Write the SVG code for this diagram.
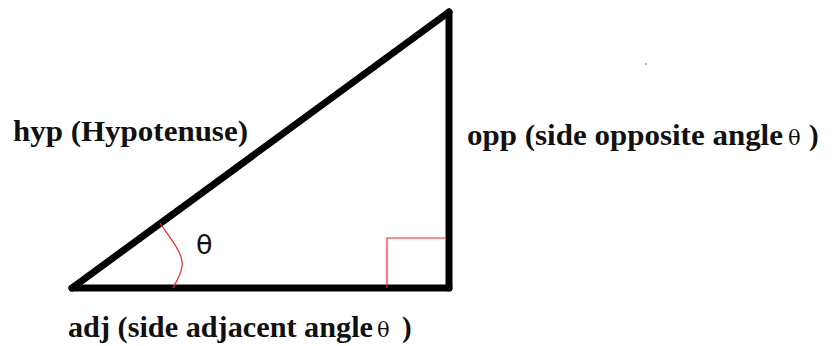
<svg xmlns="http://www.w3.org/2000/svg" width="832" height="346" viewBox="0 0 832 346">
<style>
.side{stroke:#000;stroke-width:7;stroke-linecap:round;fill:none}
.mark{stroke:#ff2020;stroke-width:1.2;fill:none}
.lbl{font-family:"Liberation Serif","Times New Roman",serif;font-weight:bold;font-size:29px;fill:#111}
.th{font-family:"DejaVu Serif",serif;font-weight:normal;font-size:21px;fill:#111}
.ang{font-family:"DejaVu Sans",sans-serif;font-size:27px;fill:#111}
</style>
<rect width="832" height="346" fill="#fff"/>
<g id="connectors">
<line id="adj-side" class="side" x1="72" y1="288" x2="449" y2="288"/>
<line id="opp-side" class="side" x1="449" y1="288" x2="449" y2="12"/>
<line id="hyp-side" class="side" x1="72" y1="288" x2="449" y2="12"/>
</g>
<g id="angle-mark">
<path class="mark" d="M160,223 C170,238 184,254 182,266 C181,275 176,282 173,288"/>
<text class="ang" x="196" y="254">θ</text>
</g>
<g id="right-angle">
<polyline class="mark" points="387,288 387,238 445,238"/>
</g>
<g id="hyp-label">
<text class="lbl" x="13" y="141" textLength="235" lengthAdjust="spacingAndGlyphs">hyp (Hypotenuse)</text>
</g>
<g id="opp-label">
<text class="lbl" x="467" y="145" textLength="316" lengthAdjust="spacingAndGlyphs">opp (side opposite angle</text>
<text class="th" x="788" y="145">θ</text>
<text class="lbl" x="809" y="145">)</text>
</g>
<g id="adj-label">
<text class="lbl" x="68" y="337" textLength="305" lengthAdjust="spacingAndGlyphs">adj (side adjacent angle</text>
<text class="th" x="377" y="337">θ</text>
<text class="lbl" x="402" y="337">)</text>
</g>
<circle cx="646" cy="64" r="0.8" fill="#3070c0"/>
</svg>
